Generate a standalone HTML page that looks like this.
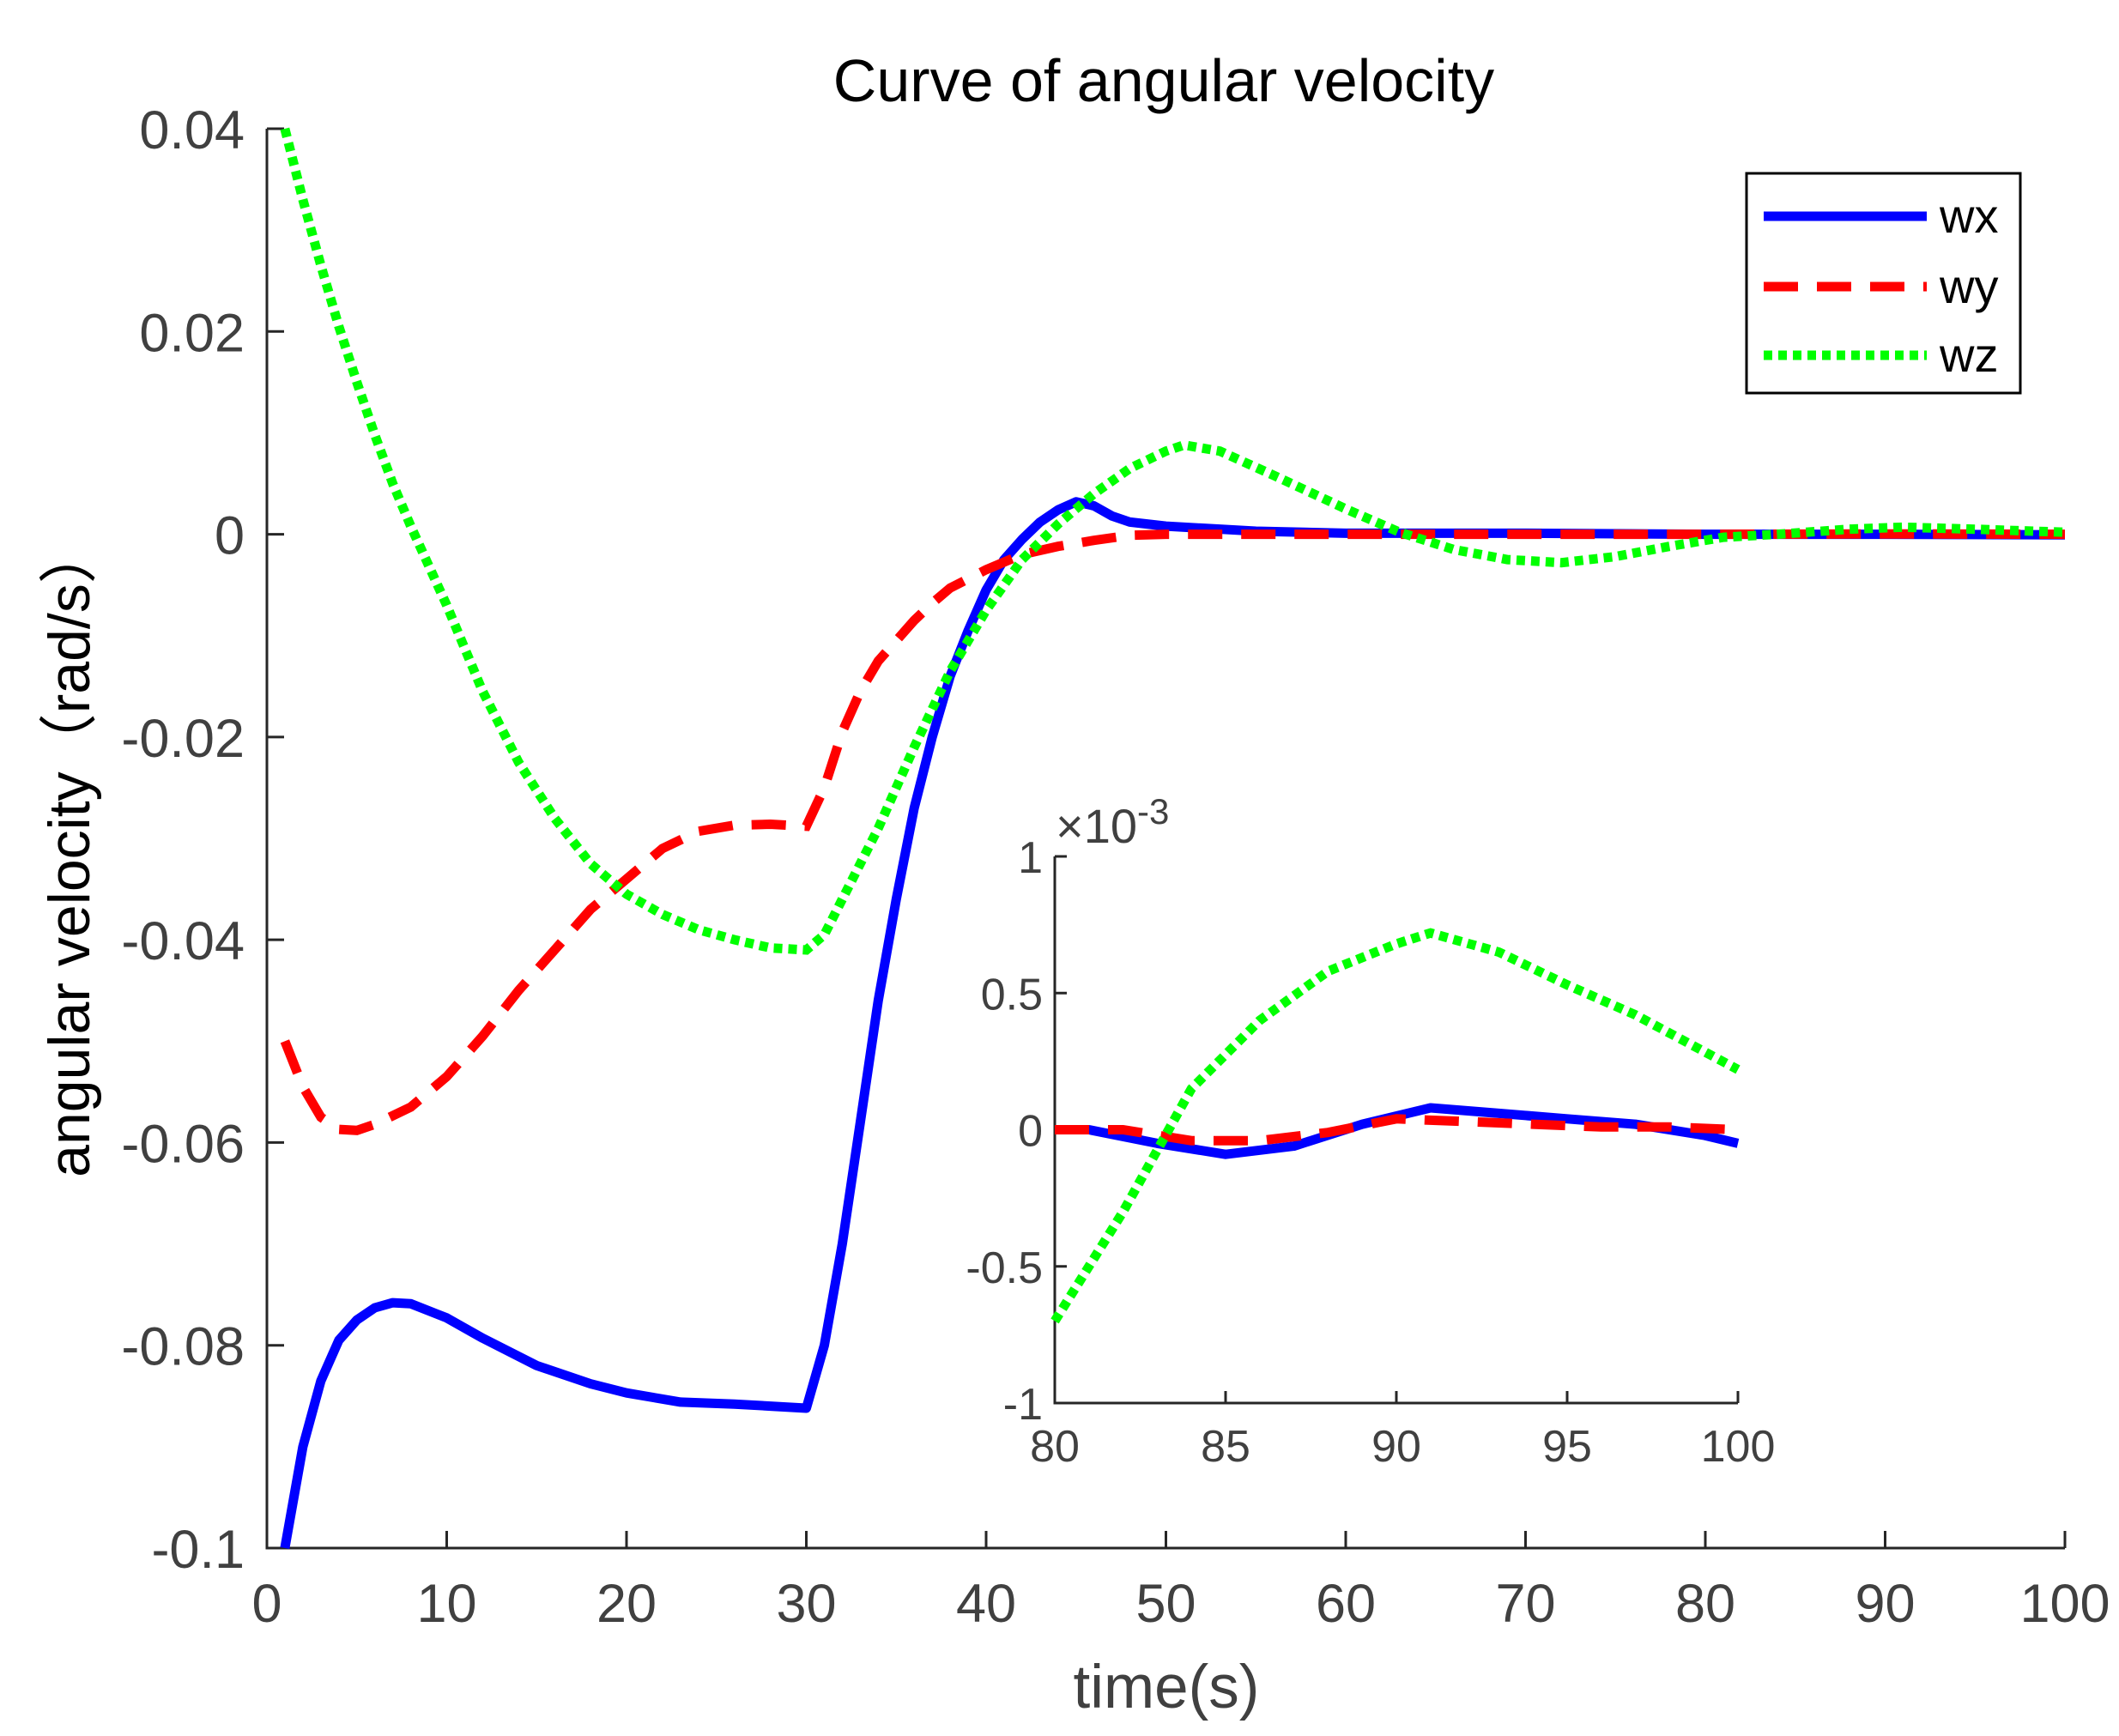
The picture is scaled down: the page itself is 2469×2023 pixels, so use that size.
<!DOCTYPE html>
<html><head><meta charset="utf-8"><style>
body{margin:0;background:#fff}
svg{display:block}
text{font-family:"Liberation Sans","Noto Sans CJK SC",sans-serif}
</style></head><body>
<svg id="chart" width="2469" height="2023" viewBox="0 0 2469 2023" xmlns="http://www.w3.org/2000/svg"></svg>
<script>
const wxT=[1,2,3,4,5,6,7,8,10,12,15,18,20,23,26,28,30,31,32,33,34,35,36,37,38,39,40,41,42,43,44,45,46,47,48,50,55,60,70,80,90,100];
const wxV=[-0.1,-0.09,-0.0835,-0.0795,-0.0775,-0.0763,-0.0758,-0.0759,-0.0773,-0.0793,-0.082,-0.0838,-0.0847,-0.0856,-0.0858,-0.086,-0.0862,-0.08,-0.07,-0.058,-0.046,-0.036,-0.027,-0.02,-0.014,-0.0095,-0.0055,-0.0025,-0.0005,0.0012,0.0024,0.0032,0.0028,0.0018,0.0012,0.0008,0.0003,0.0001,0.0001,0,0,-0.00005];
const wyT=[1,2,3,4,5,6,8,10,12,14,16,18,20,22,24,26,28,30,31,32,33,34,35,36,37,38,40,42,44,46,48,50,60,80,90,100];
const wyV=[-0.05,-0.0545,-0.0575,-0.0587,-0.0588,-0.0582,-0.0565,-0.0535,-0.0495,-0.045,-0.041,-0.037,-0.034,-0.031,-0.0293,-0.0287,-0.0286,-0.0288,-0.025,-0.0195,-0.0155,-0.0125,-0.0105,-0.0085,-0.0068,-0.0053,-0.0035,-0.002,-0.0012,-0.0006,-0.0001,0,0,0,0.00003,0];
const wzT=[1,2,3,4,5,6,7,8,10,12,14,16,18,20,22,24,26,28,30,31,32,34,36,38,40,42,44,46,48,50,51,53,56,60,63,66,69,72,75,78,81,84,88,91,95,100];
const wzV=[0.04,0.033,0.0265,0.0205,0.015,0.0098,0.005,0.0008,-0.007,-0.0155,-0.0225,-0.028,-0.0325,-0.0355,-0.0375,-0.039,-0.04,-0.0408,-0.041,-0.0395,-0.036,-0.029,-0.021,-0.0135,-0.0075,-0.0025,0.001,0.004,0.0065,0.0082,0.0088,0.0082,0.0058,0.0025,0.0002,-0.0015,-0.0025,-0.0028,-0.0022,-0.0012,-0.0003,0,0.0005,0.0007,0.0005,0.0002];
const inT=[80,81,83,85,87,89,91,93,95,97,99,100];
const inWx=[0,0,-0.05,-0.09,-0.06,0.02,0.08,0.06,0.04,0.02,-0.02,-0.05];
const inWyT=[80,82,84,86,88,90,92,94,96,98,100];
const inWy=[0,0,-0.04,-0.04,-0.01,0.04,0.03,0.02,0.01,0.01,0];
const inWzT=[80,82,84,86,88,90,91,93,95,97,100];
const inWz=[-0.7,-0.3,0.15,0.4,0.58,0.68,0.72,0.65,0.53,0.42,0.22];
const xTicks=[0,10,20,30,40,50,60,70,80,90,100];
const yTicks=[0.04,0.02,0,-0.02,-0.04,-0.06,-0.08,-0.1];
const yTickLabels=["0.04","0.02","0","-0.02","-0.04","-0.06","-0.08","-0.1"];
const inXTicks=[80,85,90,95,100];
const inYTicks=[1,0.5,0,-0.5,-1];
const inYTickLabels=["1","0.5","0","-0.5","-1"];

const svg=document.getElementById('chart');
const NS='http://www.w3.org/2000/svg';
function mk(tag,attrs,parent){const e=document.createElementNS(NS,tag);for(const k in attrs)e.setAttribute(k,attrs[k]);(parent||svg).appendChild(e);return e;}
const X0=311,X1=2406,Y0=150,Y1=1804;
const sx=t=>X0+(t-0)/(100)*(X1-X0);
const sy=v=>Y0+(0.04-v)/0.14*(Y1-Y0);
const IX0=1229,IX1=2025,IY0=998,IY1=1635;
const isx=t=>IX0+(t-80)/20*(IX1-IX0);
const isy=v=>IY0+(1-v)/2*(IY1-IY0);
const axc='#262626',tc='#404040';

let t=mk('text',{x:1356,y:118,'font-size':70,'text-anchor':'middle',fill:'#000'});t.textContent='Curve of angular velocity';



let ax=mk('path',{d:`M${X0},${Y0}V${Y1}H${X1}`,stroke:axc,'stroke-width':3,fill:'none'});


xTicks.forEach(v=>{
  mk('line',{x1:sx(v),x2:sx(v),y1:Y1,y2:Y1-20,stroke:axc,'stroke-width':3});
  const e=mk('text',{x:sx(v),y:Y1+86,'font-size':63,'text-anchor':'middle',fill:tc});e.textContent=v;
  
  
});
yTicks.forEach((v,i)=>{
  mk('line',{x1:X0,x2:X0+20,y1:sy(v),y2:sy(v),stroke:axc,'stroke-width':3});
  const e=mk('text',{x:X0-26,y:sy(v)+23,'font-size':63,'text-anchor':'end',fill:tc});e.textContent=yTickLabels[i];
  
  
});
t=mk('text',{x:1359,y:1990,'font-size':71,'text-anchor':'middle',fill:tc});t.textContent='time(s)';


t=mk('text',{x:0,y:0,'font-size':68,'text-anchor':'middle',fill:'#000',transform:'translate(104,992) rotate(-90)'});t.textContent='angular velocity（rad/s）';



function line(T,V,fx,fy,style,name){
  const d=T.map((tt,i)=>(i?'L':'M')+fx(tt).toFixed(1)+','+fy(V[i]).toFixed(1)).join('');
  const p=mk('path',Object.assign({d,fill:'none'},style));
  
  
}
const sB={stroke:'#0000ff','stroke-width':11,'stroke-linejoin':'round'};
const sR={stroke:'#ff0000','stroke-width':11,'stroke-dasharray':'40 22'};
const sG={stroke:'#00ff00','stroke-width':11,'stroke-dasharray':'10 7'};
line(wxT,wxV,sx,sy,sB,'wx-line');
line(wyT,wyV,sx,sy,sR,'wy-line');
line(wzT,wzV,sx,sy,sG,'wz-line');

ax=mk('path',{d:`M${IX0},${IY0}V${IY1}H${IX1}`,stroke:axc,'stroke-width':3,fill:'none'});


inXTicks.forEach(v=>{
  mk('line',{x1:isx(v),x2:isx(v),y1:IY1,y2:IY1-14,stroke:axc,'stroke-width':3});
  const e=mk('text',{x:isx(v),y:IY1+68,'font-size':52,'text-anchor':'middle',fill:tc});e.textContent=v;
  
  
});
inYTicks.forEach((v,i)=>{
  mk('line',{x1:IX0,x2:IX0+14,y1:isy(v),y2:isy(v),stroke:axc,'stroke-width':3});
  const e=mk('text',{x:IX0-14,y:isy(v)+19,'font-size':52,'text-anchor':'end',fill:tc});e.textContent=inYTickLabels[i];
  
  
});
t=mk('text',{x:1230,y:982,'font-size':56,fill:tc});t.innerHTML='×10<tspan dy="-22" font-size="42">-3</tspan>';


line(inT,inWx,isx,isy,sB,'inset-wx-line');
line(inWyT,inWy,isx,isy,sR,'inset-wy-line');
line(inWzT,inWz,isx,isy,sG,'inset-wz-line');

const lg=mk('g',{});


mk('rect',{x:2035,y:202,width:319,height:256,fill:'#fff',stroke:'#000','stroke-width':3},lg);
[['wx',sB,252],['wy',sR,334],['wz',sG,414]].forEach(([n,s,y])=>{
  const g=mk('g',{},lg);
  
  
  mk('line',Object.assign({x1:2055,x2:2245,y1:y,y2:y},s),g);
  const e=mk('text',{x:2260,y:y+19,'font-size':56,fill:'#000'},g);e.textContent=n;
});
</script>
</body></html>
